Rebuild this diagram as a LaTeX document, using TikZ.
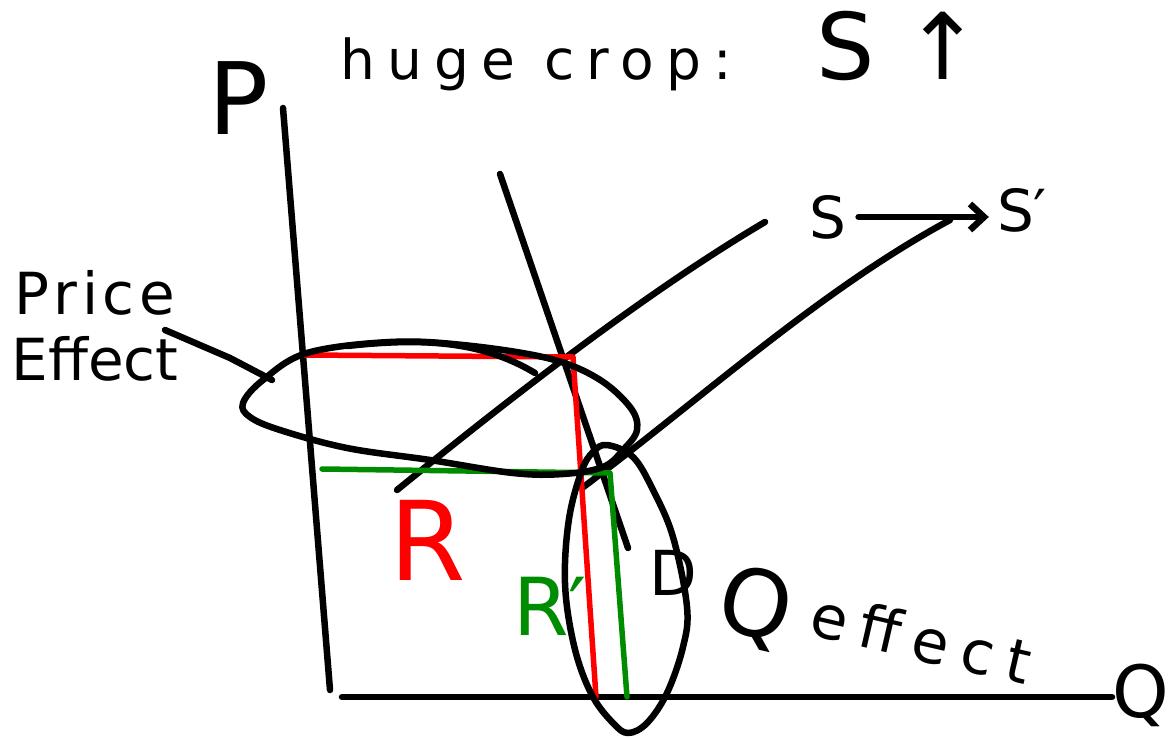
\documentclass[tikz,border=0pt]{standalone}
\usepackage{fontspec}
\setmainfont{DejaVu Sans}
\newfontfamily\handA[LetterSpace=22]{DejaVu Sans}
\newfontfamily\handB[LetterSpace=8]{DejaVu Sans}
\usetikzlibrary{arrows.meta}
\begin{document}
\begin{tikzpicture}[x=1pt,y=-1pt,line cap=round,line join=round,
  ink/.style={line width=6.5pt,black},
  redink/.style={line width=5.5pt,red},
  greenink/.style={line width=5.5pt,green!55!black},
  lbl/.style={inner sep=0pt}]
\useasboundingbox (0,0) rectangle (1174,738);

% coordinates
\coordinate (ptop) at (283,108);
\coordinate (origin) at (330,690);
\coordinate (qleft) at (342,697);
\coordinate (qright) at (1112,697);
\coordinate (dtop) at (500,174);
\coordinate (dbot) at (628,548);
\coordinate (sbot) at (397,490);
\coordinate (stop) at (765,222);
\coordinate (spbot) at (582,488);
\coordinate (sptop) at (950,220);
\coordinate (rl) at (305,355);
\coordinate (rc) at (573,357);
\coordinate (rb) at (596,697);
\coordinate (gl) at (322,469);
\coordinate (gc) at (610,473);
\coordinate (gb) at (627,697);
\coordinate (leadA) at (165,330);
\coordinate (leadB) at (272,380);

% axes
\draw[ink] (ptop) -- (origin);
\draw[ink] (qleft) -- (qright);
\node[lbl,font=\fontsize{100}{110}\selectfont] (P) at (239,98) {P};
\node[lbl,font=\fontsize{72}{80}\selectfont] (Q) at (1141,695) {Q};

% title
\node[lbl,anchor=base west] (title) at (340,80)
  {{\handA\fontsize{55}{60}\selectfont huge crop:}\hspace{85pt}{\fontsize{92}{100}\selectfont S ↑}};

% curves
\draw[ink] (dtop) -- (dbot);
\draw[ink] (sbot) .. controls (520,390) and (650,290) .. (stop);
\draw[ink] (spbot) .. controls (700,400) and (820,290) .. (sptop);

% price / quantity markers
\draw[redink] (rl) -- (rc) -- (rb);
\draw[greenink] (gl) -- (gc) -- (gb);

% labels S -> S'
\node[lbl,font=\fontsize{58}{60}\selectfont] (slab) at (828,217) {S};
\node[lbl,font=\fontsize{58}{60}\selectfont] (splab) at (1022,210) {S′};
\draw[ink,-{Straight Barb[length=14pt,width=26pt]}] (slab.east) ++(12pt,0) coordinate (sa) -- ([xshift=-8pt]splab.west |- sa);

\node[lbl,red,font=\fontsize{110}{120}\selectfont] (R) at (428,540) {R};
\node[lbl,green!55!black,font=\fontsize{80}{90}\selectfont] (Rp) at (550,606) {R′};
\node[lbl,font=\fontsize{62}{70}\selectfont] (D) at (673,573) {D};

% Price effect
\node[lbl,font=\fontsize{58}{66}\selectfont,align=center] (pe) at (95,326) {{\handB Price}\\Effect};
\draw[ink] (leadA) -- (230,358) -- (leadB);
\draw[ink] plot[smooth cycle,tension=0.6] coordinates {(243,403) (263,380) (307,353) (390,342) (463,345) (547,358) (597,378) (630,407) (637,430) (623,450) (603,467) (563,474) (513,473) (430,460) (347,448) (280,430) (250,417)};
\draw[ink] (347,346) .. controls (420,338) and (480,340) .. (535,373);

% Q effect
\draw[ink] plot[smooth cycle,tension=0.6] coordinates {(607,445) (633,457) (653,490) (673,537) (687,607) (683,647) (667,693) (647,723) (628,733) (613,723) (593,697) (577,657) (567,607) (565,563) (570,513) (582,470) (593,452)};
\node[lbl,rotate=-13,anchor=west] (qe) at (720,600)
  {{\fontsize{92}{90}\selectfont Q}\hspace{20pt}\raisebox{14pt}{\handA\fontsize{60}{60}\selectfont effect}};
\end{tikzpicture}
\end{document}
